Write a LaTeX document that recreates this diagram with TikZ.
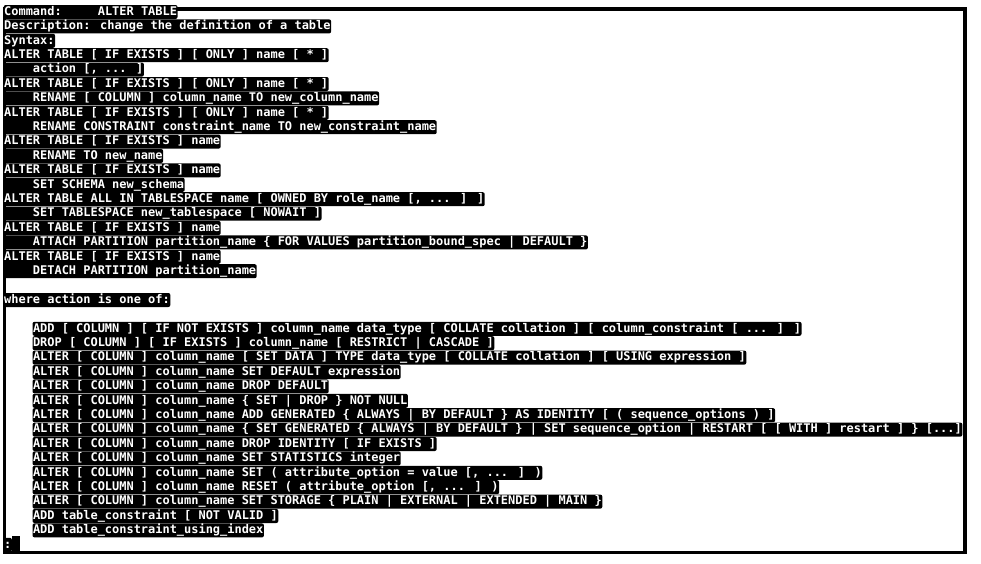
\documentclass[tikz,border=0pt]{standalone}
\usepackage{fontspec}
\usepackage{tikz}
\usetikzlibrary{positioning}
\newfontfamily\termfont{DejaVu Sans Mono}[UprightFont=* Bold]
\newcommand{\ind}{\hspace*{28.8pt}}

\begin{document}
\begin{tikzpicture}[x=1pt,y=1pt,
hl/.style={rectangle,anchor=west,fill=black,text=white,rounded corners=2pt,
inner xsep=0.5pt,inner ysep=1pt,text height=9.2pt,text depth=2.8pt,
font=\fontsize{11.96}{14.4}\termfont}]
\useasboundingbox (0,0) rectangle (981,-563);

\draw[-,line width=3.5pt,black] (4.5,-9)--(965,-9)--(965,-552.5)--(4.5,-552.5)--cycle;

\node (text_cmd) [hl,xshift=3.5pt,yshift=-12pt] {Command:\hspace*{36pt}ALTER TABLE};
\node (text_descr) [hl,xshift=3.5pt,yshift=-26.4pt] {Description: change the definition of a table};
\node (text_syntax) [hl,xshift=3.5pt,yshift=-40.8pt] {Syntax:};

\node (syn_a) [hl,xshift=3.5pt,yshift=-55.2pt] {ALTER TABLE [ IF EXISTS ] [ ONLY ] name [ * ]};
\node (syn_a_rest) [hl,xshift=3.5pt,yshift=-69.6pt] {\ind action [, ... ]};
\node (syn_b) [hl,xshift=3.5pt,yshift=-84pt] {ALTER TABLE [ IF EXISTS ] [ ONLY ] name [ * ]};
\node (syn_b_rest) [hl,xshift=3.5pt,yshift=-98.4pt] {\ind RENAME [ COLUMN ] column\_name TO new\_column\_name};
\node (syn_c) [hl,xshift=3.5pt,yshift=-112.8pt] {ALTER TABLE [ IF EXISTS ] [ ONLY ] name [ * ]};
\node (syn_c_rest) [hl,xshift=3.5pt,yshift=-127.2pt] {\ind RENAME CONSTRAINT constraint\_name TO new\_constraint\_name};
\node (syn_d) [hl,xshift=3.5pt,yshift=-141.6pt] {ALTER TABLE [ IF EXISTS ] name};
\node (syn_d_rest) [hl,xshift=3.5pt,yshift=-156pt] {\ind RENAME TO new\_name};
\node (syn_e) [hl,xshift=3.5pt,yshift=-170.4pt] {ALTER TABLE [ IF EXISTS ] name};
\node (syn_e_rest) [hl,xshift=3.5pt,yshift=-184.8pt] {\ind SET SCHEMA new\_schema};
\node (syn_f) [hl,xshift=3.5pt,yshift=-199.2pt] {ALTER TABLE ALL IN TABLESPACE name [ OWNED BY role\_name [, ... ] ]};
\node (syn_f_rest) [hl,xshift=3.5pt,yshift=-213.6pt] {\ind SET TABLESPACE new\_tablespace [ NOWAIT ]};
\node (syn_g) [hl,xshift=3.5pt,yshift=-228pt] {ALTER TABLE [ IF EXISTS ] name};
\node (syn_g_rest) [hl,xshift=3.5pt,yshift=-242.4pt] {\ind ATTACH PARTITION partition\_name \{ FOR VALUES partition\_bound\_spec | DEFAULT \}};
\node (syn_h) [hl,xshift=3.5pt,yshift=-256.8pt] {ALTER TABLE [ IF EXISTS ] name};
\node (syn_h_rest) [hl,xshift=3.5pt,yshift=-271.2pt] {\ind DETACH PARTITION partition\_name};

\node (text_where) [hl,xshift=3.5pt,yshift=-300pt] {where action is one of:};

\node (act_a) [hl,xshift=32.3pt,yshift=-328.8pt] {ADD [ COLUMN ] [ IF NOT EXISTS ] column\_name data\_type [ COLLATE collation ] [ column\_constraint [ ... ] ]};
\node (act_b) [hl,xshift=32.3pt,yshift=-343.2pt] {DROP [ COLUMN ] [ IF EXISTS ] column\_name [ RESTRICT | CASCADE ]};
\node (act_c) [hl,xshift=32.3pt,yshift=-357.6pt] {ALTER [ COLUMN ] column\_name [ SET DATA ] TYPE data\_type [ COLLATE collation ] [ USING expression ]};
\node (act_d) [hl,xshift=32.3pt,yshift=-372pt] {ALTER [ COLUMN ] column\_name SET DEFAULT expression};
\node (act_e) [hl,xshift=32.3pt,yshift=-386.4pt] {ALTER [ COLUMN ] column\_name DROP DEFAULT};
\node (act_f) [hl,xshift=32.3pt,yshift=-400.8pt] {ALTER [ COLUMN ] column\_name \{ SET | DROP \} NOT NULL};
\node (act_g) [hl,xshift=32.3pt,yshift=-415.2pt] {ALTER [ COLUMN ] column\_name ADD GENERATED \{ ALWAYS | BY DEFAULT \} AS IDENTITY [ ( sequence\_options ) ]};
\node (act_h) [hl,xshift=32.3pt,yshift=-429.6pt] {ALTER [ COLUMN ] column\_name \{ SET GENERATED \{ ALWAYS | BY DEFAULT \} | SET sequence\_option | RESTART [ [ WITH ] restart ] \} [...]};
\node (act_i) [hl,xshift=32.3pt,yshift=-444pt] {ALTER [ COLUMN ] column\_name DROP IDENTITY [ IF EXISTS ]};
\node (act_j) [hl,xshift=32.3pt,yshift=-458.4pt] {ALTER [ COLUMN ] column\_name SET STATISTICS integer};
\node (act_k) [hl,xshift=32.3pt,yshift=-472.8pt] {ALTER [ COLUMN ] column\_name SET ( attribute\_option = value [, ... ] )};
\node (act_l) [hl,xshift=32.3pt,yshift=-487.2pt] {ALTER [ COLUMN ] column\_name RESET ( attribute\_option [, ... ] )};
\node (act_m) [hl,xshift=32.3pt,yshift=-501.6pt] {ALTER [ COLUMN ] column\_name SET STORAGE \{ PLAIN | EXTERNAL | EXTENDED | MAIN \}};
\node (act_n) [hl,xshift=32.3pt,yshift=-516pt] {ADD table\_constraint [ NOT VALID ]};
\node (act_o) [hl,xshift=32.3pt,yshift=-530.4pt] {ADD table\_constraint\_using\_index};

\node (prompt) [hl,xshift=3.5pt,yshift=-544.8pt] {:};
\node (cursor) [right=0pt of prompt,rectangle,fill=black,inner sep=0pt,minimum width=8pt,minimum height=17pt] {};

\end{tikzpicture}
\end{document}
